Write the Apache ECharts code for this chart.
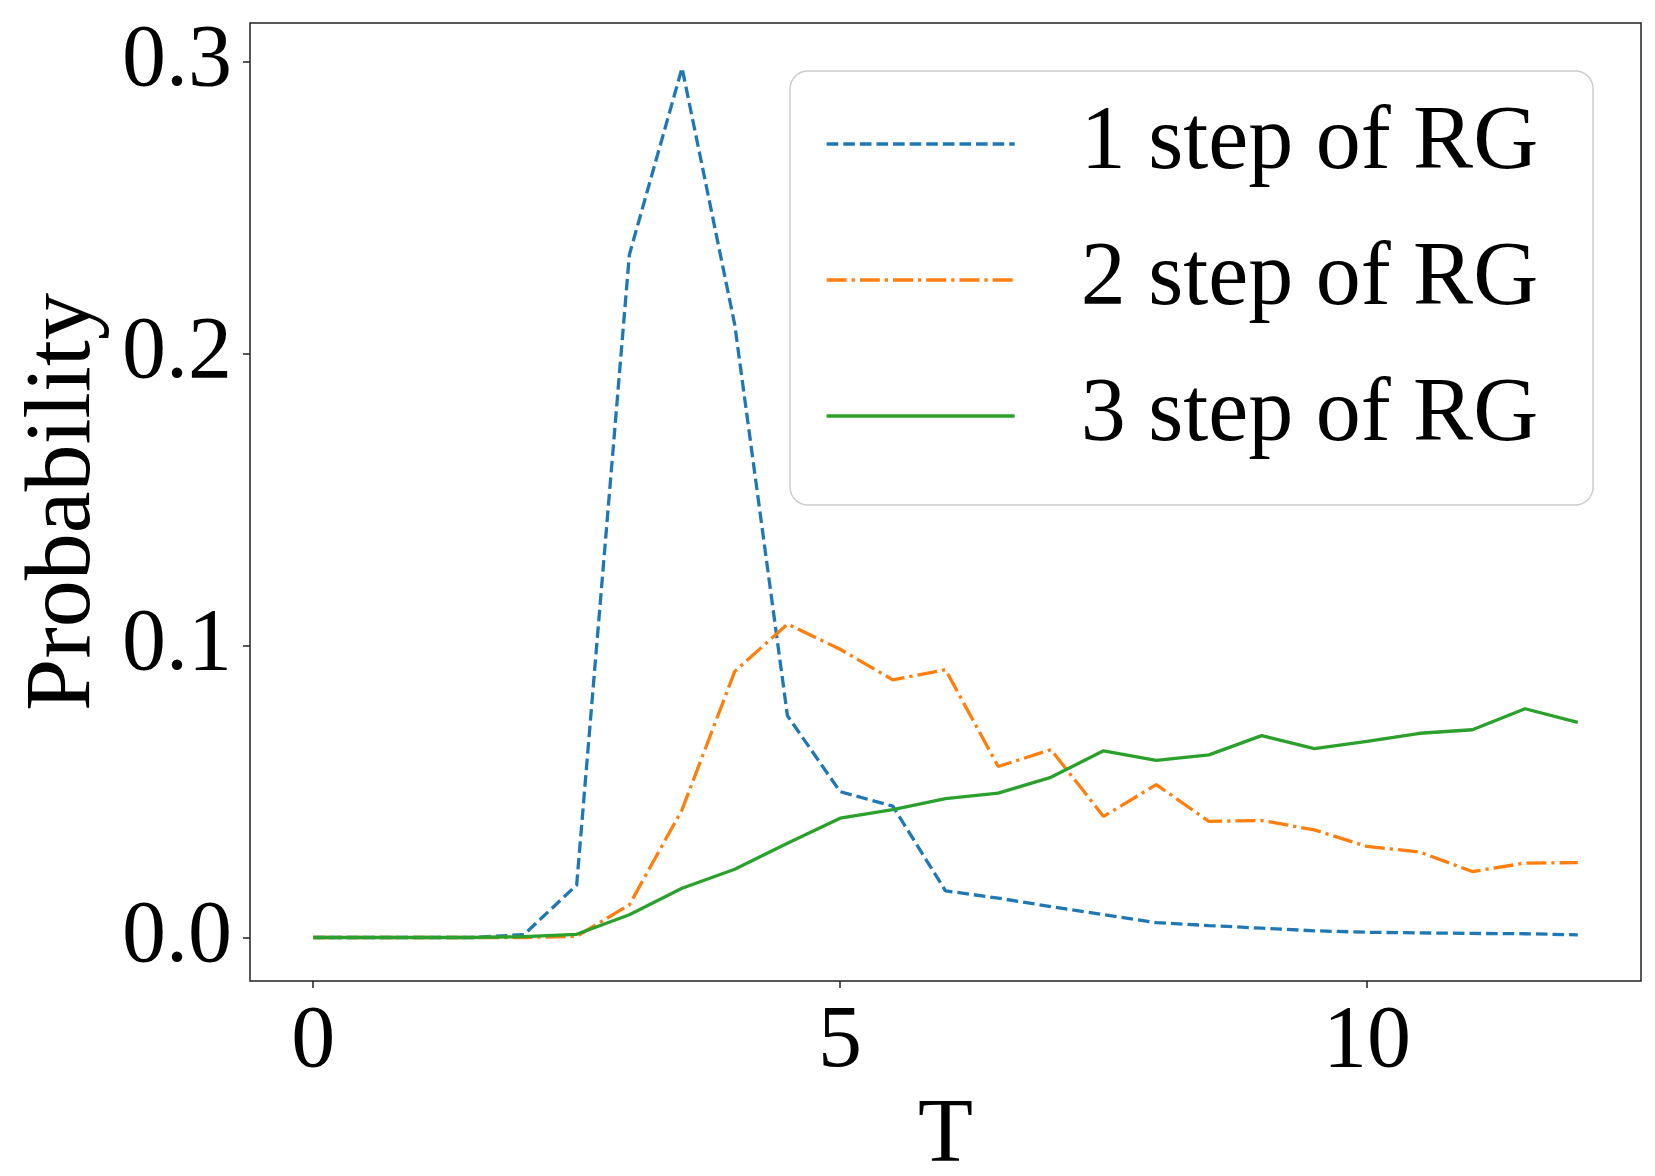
<!DOCTYPE html>
<html>
<head>
<meta charset="utf-8">
<title>Probability vs T</title>
<script src="https://cdn.jsdelivr.net/npm/echarts@6/dist/echarts.min.js"></script>
<style>
  html, body { margin: 0; padding: 0; background: #fff; }
  #myChart { width: 1655px; height: 1176px; }
</style>
</head>
<body>
<div id="myChart"></div>
<script>
// T 取值
const tValues = [0, 0.5, 1, 1.5, 2, 2.5, 3, 3.5, 4, 4.5, 5, 5.5, 6, 6.5, 7, 7.5, 8, 8.5, 9, 9.5, 10, 10.5, 11, 11.5, 12]
// 各步 RG 的概率
const step1 = [0, 0, 0, 0, 0.001, 0.018, 0.234, 0.298, 0.21, 0.076, 0.05, 0.045, 0.016, 0.0135, 0.0106, 0.0078, 0.0051, 0.0041, 0.0032, 0.0023, 0.0018, 0.0016, 0.0014, 0.0013, 0.0009]
const step2 = [0, 0, 0, 0, 0, 0.0004, 0.0112, 0.0438, 0.0912, 0.1074, 0.0988, 0.0883, 0.0918, 0.0586, 0.0644, 0.0415, 0.0524, 0.0398, 0.0401, 0.0369, 0.0312, 0.0293, 0.0226, 0.0255, 0.0257]
const step3 = [0, 0, 0, 0, 0.0003, 0.0011, 0.0078, 0.0169, 0.0234, 0.0323, 0.0409, 0.0438, 0.0476, 0.0495, 0.0549, 0.064, 0.0607, 0.0626, 0.0692, 0.0647, 0.0672, 0.07, 0.0712, 0.0784, 0.0737]
const seriesNames = ['1 step of RG', '2 step of RG', '3 step of RG']
// 刻度
const xTicks = [0, 5, 10]
const yTicks = [0, 0.1, 0.2, 0.3]

const FONT = 'Liberation Serif'
const LW = 3.3 // 线宽
const pairs = (ys) => tValues.map((t, i) => [t, ys[i]])

let chart = echarts.init(document.getElementById('myChart'))
let option = {
  animation: false,
  // 图表位置 + 外框
  grid: {
    left: 250,
    right: 14,
    top: 23,
    bottom: 195,
    containLabel: false,
    outerBoundsMode: 'none', // 不让 v6 自动收缩网格
    show: true,
    borderColor: '#222',
    borderWidth: 1.5
  },
  legend: {
    orient: 'vertical',
    left: 790,
    top: 71,
    itemWidth: 188,
    itemHeight: 2, // 图例里的圆点几乎看不见
    itemGap: 46,
    padding: [28, 55, 44, 35],
    backgroundColor: 'rgba(255,255,255,0.8)',
    borderColor: '#cccccc',
    borderWidth: 1.5,
    borderRadius: 18,
    itemStyle: { opacity: 0 },
    lineStyle: { width: LW },
    textStyle: {
      fontFamily: FONT,
      fontSize: 90,
      lineHeight: 88,
      color: '#000',
      padding: [0, 0, 0, 61]
    },
    data: seriesNames
  },
  xAxis: {
    type: 'value',
    min: -0.6,
    max: 12.6,
    name: 'T',
    nameLocation: 'middle',
    nameGap: 107,
    nameTextStyle: { fontFamily: FONT, fontSize: 90, color: '#000' },
    axisLine: { show: false, onZero: false },
    splitLine: { show: false },
    axisTick: {
      show: true,
      length: 7,
      customValues: xTicks,
      lineStyle: { color: '#222', width: 1.5 }
    },
    axisLabel: {
      customValues: xTicks,
      margin: 18,
      fontFamily: FONT,
      fontSize: 88,
      color: '#000'
    }
  },
  yAxis: {
    type: 'value',
    min: -0.0149,
    max: 0.3134,
    name: 'Probability',
    nameLocation: 'middle',
    nameGap: 128,
    nameTextStyle: { fontFamily: FONT, fontSize: 94, color: '#000' },
    axisLine: { show: false, onZero: false },
    splitLine: { show: false },
    axisTick: {
      show: true,
      length: 7,
      customValues: yTicks,
      lineStyle: { color: '#222', width: 1.5 }
    },
    axisLabel: {
      customValues: yTicks,
      margin: 18,
      fontFamily: FONT,
      fontSize: 88,
      color: '#000',
      formatter: (v) => v.toFixed(1)
    }
  },
  series: [
    {
      name: seriesNames[0],
      type: 'line',
      symbol: 'none',
      data: pairs(step1),
      color: '#1f77b4',
      lineStyle: { width: LW, type: [11.6, 5] }
    },
    {
      name: seriesNames[1],
      type: 'line',
      symbol: 'none',
      data: pairs(step2),
      color: '#ff7f0e',
      lineStyle: { width: LW, type: [20, 5, 3.2, 5] }
    },
    {
      name: seriesNames[2],
      type: 'line',
      symbol: 'none',
      data: pairs(step3),
      color: '#2ca02c',
      lineStyle: { width: LW, type: 'solid' }
    }
  ]
}
chart.setOption(option)
window.onresize = function () {
  chart.resize()
}
</script>
</body>
</html>
